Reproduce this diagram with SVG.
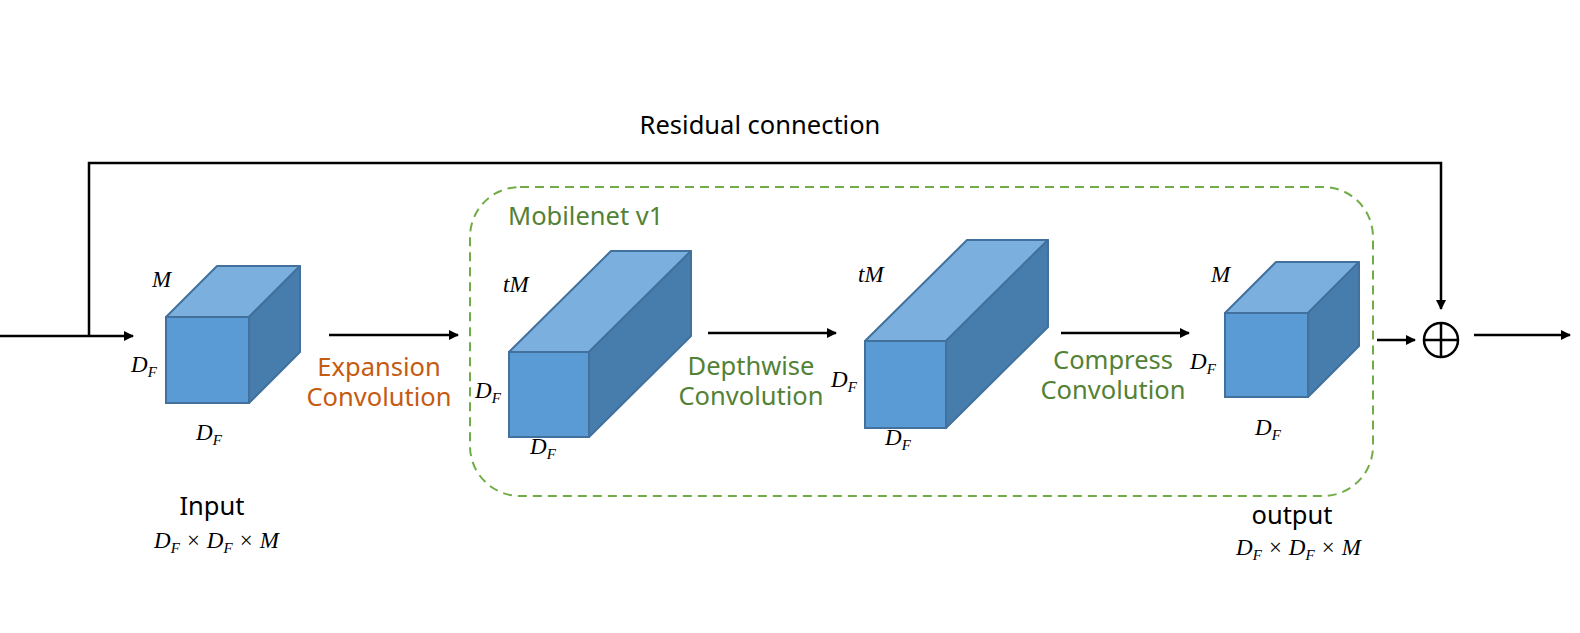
<svg xmlns="http://www.w3.org/2000/svg" width="1580" height="633" viewBox="0 0 1580 633">
<style>
.front{fill:#5B9BD5;stroke:#41719C;stroke-width:2}
.top{fill:#7BAFDE;stroke:#41719C;stroke-width:2;stroke-linejoin:round}
.side{fill:#477DAD;stroke:#41719C;stroke-width:2;stroke-linejoin:round}
.conn{fill:none;stroke:#000;stroke-width:2.5}
.math{font-family:"Liberation Serif","DejaVu Serif",serif;font-style:italic;font-size:23px;fill:#000}
.sub{font-size:15px}
.lbl{font-family:"Noto Sans","Open Sans",sans-serif;font-size:25.5px}
.orange{fill:#C55A11}
.green{fill:#538135}
.black{fill:#000}
</style>
<defs>
<marker id="ah" viewBox="0 0 10 10" refX="9" refY="5" markerWidth="4.4" markerHeight="4" orient="auto" markerUnits="strokeWidth">
<path d="M0,0 L10,5 L0,10 z" fill="#000"/>
</marker>
</defs>
<rect width="1580" height="633" fill="#fff"/>

<g id="mobilenet-box">
<rect x="470" y="187" width="903" height="309" rx="50" ry="50" fill="none" stroke="#70AD47" stroke-width="2" stroke-dasharray="9,6"/>
<text x="508" y="225" class="lbl green">Mobilenet v1</text>
</g>

<g id="connectors">
<line x1="0" y1="336" x2="133" y2="336" class="conn" marker-end="url(#ah)"/>
<polyline points="89,336 89,163 1441,163 1441,309" class="conn" marker-end="url(#ah)"/>
<line x1="329" y1="335" x2="458" y2="335" class="conn" marker-end="url(#ah)"/>
<line x1="708" y1="333" x2="836" y2="333" class="conn" marker-end="url(#ah)"/>
<line x1="1061" y1="333" x2="1189" y2="333" class="conn" marker-end="url(#ah)"/>
<line x1="1377" y1="340" x2="1415" y2="340" class="conn" marker-end="url(#ah)"/>
<line x1="1474" y1="335" x2="1570" y2="335" class="conn" marker-end="url(#ah)"/>
</g>

<text x="760" y="134" text-anchor="middle" class="lbl black">Residual connection</text>

<g id="input-cube">
<rect x="166" y="317" width="83" height="86" class="front"/>
<polygon points="166,317 217,266 300,266 249,317" class="top"/>
<polygon points="249,317 300,266 300,352 249,403" class="side"/>
<text x="152" y="287" class="math">M</text>
<text x="131" y="372" class="math">D<tspan class="sub" dy="5">F</tspan></text>
<text x="196" y="440" class="math">D<tspan class="sub" dy="5">F</tspan></text>
<text x="212" y="515" text-anchor="middle" class="lbl black" font-size="19">Input</text>
<text x="154" y="548" class="math">D<tspan class="sub" dy="5">F</tspan><tspan dy="-5"> × D</tspan><tspan class="sub" dy="5">F</tspan><tspan dy="-5"> × M</tspan></text>
</g>

<g id="expansion-label">
<text x="379" y="376" text-anchor="middle" class="lbl orange">Expansion</text>
<text x="379" y="406" text-anchor="middle" class="lbl orange">Convolution</text>
</g>

<g id="expanded-cube">
<rect x="509" y="352" width="80" height="85" class="front"/>
<polygon points="509,352 611,251 691,251 589,352" class="top"/>
<polygon points="589,352 691,251 691,336 589,437" class="side"/>
<text x="503" y="292" class="math">tM</text>
<text x="475" y="398" class="math">D<tspan class="sub" dy="5">F</tspan></text>
<text x="530" y="454" class="math">D<tspan class="sub" dy="5">F</tspan></text>
</g>

<g id="depthwise-label">
<text x="751" y="375" text-anchor="middle" class="lbl green">Depthwise</text>
<text x="751" y="405" text-anchor="middle" class="lbl green">Convolution</text>
</g>

<g id="depthwise-cube">
<rect x="865" y="341" width="81" height="87" class="front"/>
<polygon points="865,341 967,240 1048,240 946,341" class="top"/>
<polygon points="946,341 1048,240 1048,327 946,428" class="side"/>
<text x="858" y="282" class="math">tM</text>
<text x="831" y="387" class="math">D<tspan class="sub" dy="5">F</tspan></text>
<text x="885" y="445" class="math">D<tspan class="sub" dy="5">F</tspan></text>
</g>

<g id="compress-label">
<text x="1113" y="369" text-anchor="middle" class="lbl green">Compress</text>
<text x="1113" y="399" text-anchor="middle" class="lbl green">Convolution</text>
</g>

<g id="output-cube">
<rect x="1225" y="313" width="83" height="84" class="front"/>
<polygon points="1225,313 1276,262 1359,262 1308,313" class="top"/>
<polygon points="1308,313 1359,262 1359,346 1308,397" class="side"/>
<text x="1211" y="282" class="math">M</text>
<text x="1190" y="369" class="math">D<tspan class="sub" dy="5">F</tspan></text>
<text x="1255" y="435" class="math">D<tspan class="sub" dy="5">F</tspan></text>
<text x="1292" y="524" text-anchor="middle" class="lbl black" font-size="19">output</text>
<text x="1236" y="555" class="math">D<tspan class="sub" dy="5">F</tspan><tspan dy="-5"> × D</tspan><tspan class="sub" dy="5">F</tspan><tspan dy="-5"> × M</tspan></text>
</g>

<g id="sum-node">
<circle cx="1441" cy="340" r="17" fill="#fff" stroke="#000" stroke-width="2.5"/>
<line x1="1424" y1="340" x2="1458" y2="340" stroke="#000" stroke-width="2.5"/>
<line x1="1441" y1="323" x2="1441" y2="357" stroke="#000" stroke-width="2.5"/>
</g>
</svg>
